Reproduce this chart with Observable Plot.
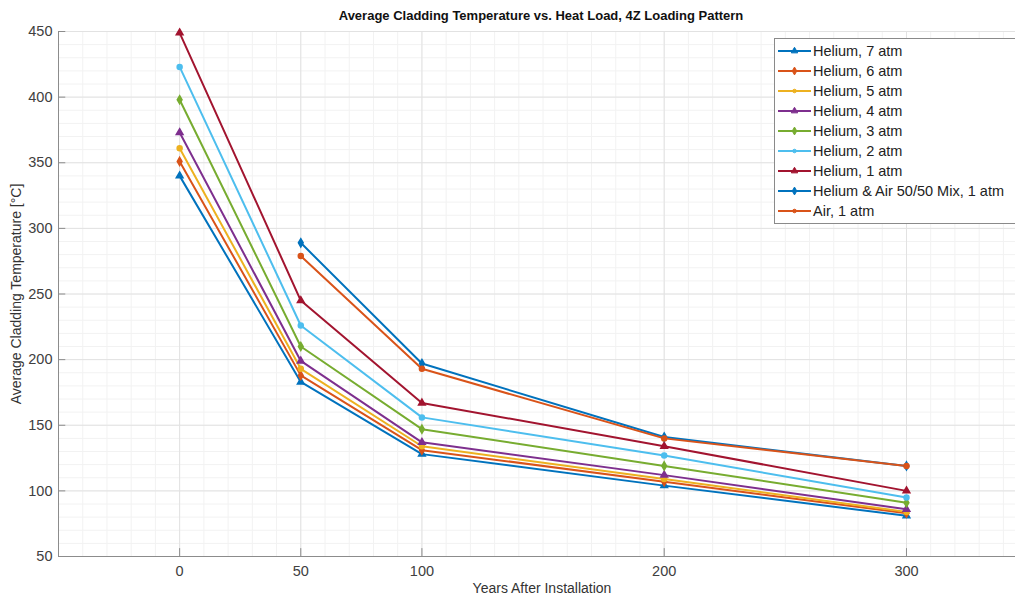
<!DOCTYPE html>
<html>
<head>
<meta charset="utf-8">
<script src="https://cdn.jsdelivr.net/npm/d3@7"></script>
<script src="https://cdn.jsdelivr.net/npm/@observablehq/plot@0.6"></script>
<style>
  html, body { margin: 0; padding: 0; background: #fff; overflow: hidden; width: 1015px; height: 601px; }
  body { position: relative; font-family: "Liberation Sans", Arial, sans-serif; }
  #title { height: 24px; padding-top: 8px; box-sizing: border-box; line-height: 16px; font-size: 13px; font-weight: bold; color: #111; width: 1015px; }
  #title span { position: absolute; left: 541px; transform: translateX(-50%); white-space: nowrap; }
  #legend { position: absolute; left: 774px; top: 38px; width: 300px; border: 1px solid #8a8a8a; background: #fff; padding: 2px 0; }
  .row { height: 20px; display: flex; align-items: center; font-size: 14.5px; color: #222; white-space: nowrap; }
  .row svg { flex: none; }
</style>
</head>
<body>
<div id="title"><span>Average Cladding Temperature vs. Heat Load, 4Z Loading Pattern</span></div>
<div id="chart"></div>
<div id="legend"></div>
<script>
// ---- data ----
const years = [0, 50, 100, 200, 300];
const seriesNames = [
  "Helium, 7 atm", "Helium, 6 atm", "Helium, 5 atm", "Helium, 4 atm",
  "Helium, 3 atm", "Helium, 2 atm", "Helium, 1 atm",
  "Helium & Air 50/50 Mix, 1 atm", "Air, 1 atm"
];
const colors = ["#0072BD", "#D95319", "#EDB120", "#7E2F8E", "#77AC30", "#4DBEEE", "#A2142F", "#0072BD", "#D95319"];
const markers = ["triangle", "diamond", "circle", "triangle", "diamond", "circle", "triangle", "diamond", "circle"];
const he7 = [340, 183, 128, 104, 81];
const he6 = [351, 188, 131, 107, 83];
const he5 = [361, 193, 134, 109, 84];
const he4 = [373, 199, 137, 112, 86];
const he3 = [398, 210, 147, 119, 91];
const he2 = [423, 226, 156, 127, 95];
const he1 = [449, 245, 167, 134, 100];
const mix = [null, 289, 197, 141, 119];
const air = [null, 279, 193, 140, 119];
const yTicks = [50, 100, 150, 200, 250, 300, 350, 400, 450];
const xTicks = [0, 50, 100, 200, 300];
const xMinor = d3.range(-50, 346, 10);
const yMinor = d3.range(50, 451, 10);

const values = [he7, he6, he5, he4, he3, he2, he1, mix, air];
const rows = [];
values.forEach((vals, i) => vals.forEach((v, j) => {
  if (v != null) rows.push({series: seriesNames[i], year: years[j], temp: v});
}));

const xDomain = [-50, 345];
const yDomain = [50, 450];

const chart = Plot.plot({
  width: 1015,
  height: 577,
  marginLeft: 58,
  marginRight: 0,
  marginTop: 7,
  marginBottom: 45,
  style: {fontFamily: "Liberation Sans, Arial, sans-serif", fontSize: "14.5px", color: "#404040", background: "#fff", overflow: "visible"},
  x: {domain: xDomain, label: null},
  y: {domain: yDomain, label: null},
  color: {domain: seriesNames, range: colors},
  symbol: {domain: seriesNames, range: markers},
  marks: [
    Plot.ruleX(xMinor, {stroke: "#f2f2f2", strokeWidth: 1}),
    Plot.ruleY(yMinor, {stroke: "#f2f2f2", strokeWidth: 1}),
    Plot.ruleX(xTicks, {stroke: "#e2e2e2", strokeWidth: 1}),
    Plot.ruleY(yTicks, {stroke: "#e2e2e2", strokeWidth: 1}),
    Plot.ruleX([xDomain[0]], {stroke: "#8c8c8c", strokeWidth: 1}),
    Plot.ruleY([yDomain[0]], {stroke: "#8c8c8c", strokeWidth: 1}),
    Plot.ruleY(yTicks, {x1: -50, x2: -47, stroke: "#8c8c8c"}),
    Plot.ruleX(xTicks, {y1: 50, y2: 56, stroke: "#8c8c8c"}),
    Plot.axisY({ticks: yTicks, tickSize: 0, tickPadding: 6, label: null, fontSize: 14.5}),
    Plot.axisX({ticks: xTicks, tickSize: 0, tickPadding: 9, label: null, fontSize: 14.5}),
    Plot.line(rows, {x: "year", y: "temp", z: "series", stroke: "series", strokeWidth: 2}),
    Plot.dot(rows, {x: "year", y: "temp", fill: "series", stroke: "series", symbol: "series", r: 2.5}),
    Plot.text(["Years After Installation"], {frameAnchor: "bottom", textAnchor: "middle", text: d => d, dy: 36, dx: 5, fontSize: 14, fill: "#333"}),
    Plot.text(["Average Cladding Temperature [°C]"], {frameAnchor: "left", textAnchor: "middle", text: d => d, rotate: -90, dx: -42, dy: 0, fontSize: 14, fill: "#333"})
  ]
});
document.getElementById("chart").appendChild(chart);

// ---- legend ----
const symMap = {triangle: d3.symbolTriangle, diamond: d3.symbolDiamond, circle: d3.symbolCircle, square: d3.symbolSquare};
const legend = d3.select("#legend");
seriesNames.forEach((name, i) => {
  const row = legend.append("div").attr("class", "row");
  const s = row.append("svg").attr("width", 38).attr("height", 20);
  s.append("line").attr("x1", 3).attr("x2", 36).attr("y1", 10).attr("y2", 10)
    .attr("stroke", colors[i]).attr("stroke-width", 2);
  s.append("path").attr("d", d3.symbol(symMap[markers[i]], markers[i] === "circle" ? 10 : 18)())
    .attr("transform", "translate(19.5,10)").attr("fill", colors[i]).attr("stroke", colors[i]);
  row.append("span").text(name);
});
</script>
</body>
</html>
